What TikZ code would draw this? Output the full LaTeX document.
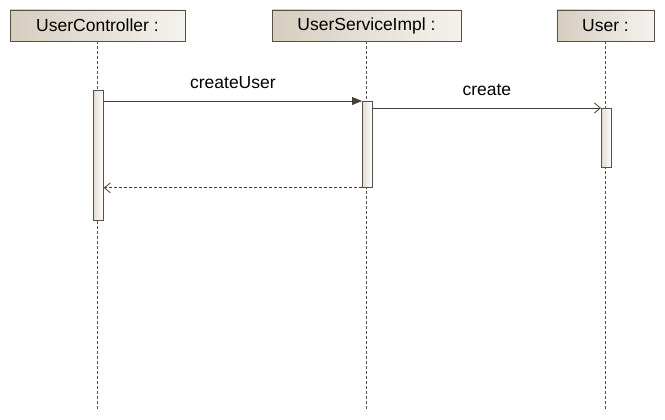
\documentclass[tikz,border=0pt]{standalone}
\usepackage{fontspec}
\setmainfont{Liberation Sans}
\usetikzlibrary{arrows.meta}
\definecolor{umlline}{HTML}{5A4E45}
\definecolor{umldark}{HTML}{D6CDC0}
\definecolor{umllight}{HTML}{F4F2EE}

\begin{document}
\begin{tikzpicture}
    [   x=1pt, y=-1pt,
        obj/.style={draw=umlline,line width=0.8pt,left color=umldark,right color=umllight,
                    minimum height=31pt,inner sep=0pt,font=\fontsize{17.5}{20}\selectfont},
        bar/.style={draw=umlline,line width=0.8pt,left color=umldark!70,right color=white,
                    minimum width=10pt,inner sep=0pt,anchor=north west},
        life/.style={draw=umlline,line width=0.6pt,dash pattern=on 3pt off 2pt},
        call/.style={draw=umlline!80!black,line width=0.8pt,-{Triangle[length=10pt,width=8pt]}},
        msg/.style={draw=umlline!80!black,line width=0.8pt,-{Straight Barb[length=6pt,width=10pt]}},
        reply/.style={draw=umlline!80!black,line width=0.8pt,dash pattern=on 3pt off 2pt,
                      -{Straight Barb[length=6pt,width=10pt]}},
        lbl/.style={font=\fontsize{17.5}{20}\selectfont},
    ]
        \useasboundingbox (0,0) rectangle (665,420);

        % draw the objects
        \node[obj, minimum width=175pt] (ctrl) at (97.5,25.5) {UserController :};
        \node[obj, minimum width=189pt] (svc) at (366.5,25.5) {UserServiceImpl :};
        \node[obj, minimum width=97pt] (user) at (605.5,25.5) {User :};

        % draw the lifelines
        \coordinate (ctrlend) at (98,410);
        \coordinate (svcend) at (367,410);
        \coordinate (userend) at (606,410);
        \draw[life] (ctrl.south) -- (ctrl.south |- ctrlend);
        \draw[life] (svc.south) -- (svc.south |- svcend);
        \draw[life] (user.south) -- (user.south |- userend);

        % draw the activations
        \node[bar, minimum height=130pt] (ctrlbar) at (93,90) {};
        \node[bar, minimum height=86pt] (svcbar) at (362,101) {};
        \node[bar, minimum height=59pt] (userbar) at (601,108) {};

        % draw the messages
        \draw[call] (ctrlbar.east |- svcbar.north west) -- (svcbar.north west)
            node[lbl, midway, above=9pt] {createUser};
        \draw[msg] (svcbar.east |- userbar.north west) -- (userbar.north west)
            node[lbl, midway, above=9pt] {create};
        \draw[reply] (svcbar.south west) -- (ctrlbar.east |- svcbar.south west);
    \end{tikzpicture}
\end{document}
